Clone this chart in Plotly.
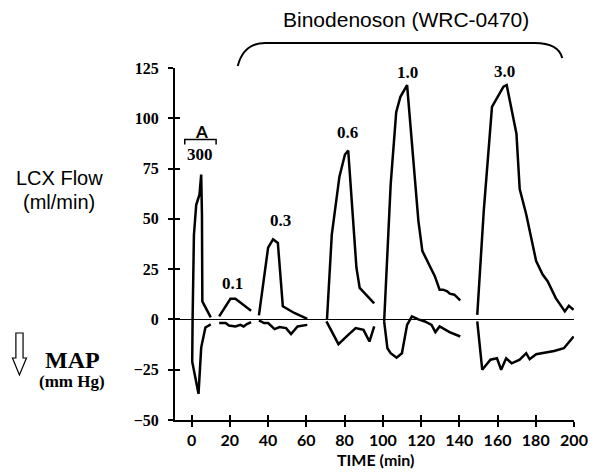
import plotly.graph_objects as go

# LCX flow (ml/min) vs time (min); None separates the dose segments
flow_time = [0.5, 1.2, 2.4, 4.1, 5.0, 5.4, 5.6, 10.0, None,
             14.4, 20.3, 22.9, 31.1, None,
             35.2, 40.0, 42.6, 45.1, 47.7, 53.7, 60.5, None,
             70.8, 73.3, 77.3, 80.2, 81.9, 86.2, 87.9, 95.5, None,
             100.7, 102.4, 104.1, 107.0, 109.2, 112.7, 114.4, 117.0, 118.6, 120.7,
             123.8, 127.2, 129.7, 131.5, 133.7, 135.0, 137.4, 140.5, None,
             149.4, 152.8, 157.1, 161.4, 163.1, 164.8, 169.9, 171.6, 175.0, 180.2,
             183.6, 186.2, 190.4, 195.2, 197.3, 199.8]
flow_values = [0, 42, 57, 62, 72, 52, 9, 1, None,
               1.5, 10.3, 10.3, 4.3, None,
               2, 35.7, 39.8, 38, 6.5, 3.2, 0.3, None,
               0, 42, 71, 82, 84, 25.7, 15.7, 8, None,
               -1, 35.7, 67, 103, 110.7, 116.5, 95.7, 65.7, 49, 34,
               28, 21.5, 14.8, 14.8, 14, 12.8, 12.3, 9.5, None,
               2.3, 54, 105.7, 113, 115.7, 116.5, 92.3, 64.8, 52.3, 29,
               22.3, 19, 10.7, 4, 6.8, 4.8]

# change in mean arterial pressure (mm Hg)
map_time = [0.5, 0.3, 3.6, 5.0, 7.2, 10.0, None,
            14.4, 17.8, 19.5, 22.9, 25.5, 27.2, 28.9, 31.1, None,
            35.2, 37.9, 40.0, 43.4, 46.0, 49.4, 52.0, 55.4, 60.5, None,
            70.5, 76.8, 81.9, 85.8, 89.9, 93.0, 95.5, None,
            100.7, 102.4, 104.1, 107.2, 110.0, 112.7, 115.2, 118.6, 122.0, 125.5,
            127.5, 129.7, 134.9, 140.5, None,
            149.4, 152.0, 156.3, 159.7, 161.9, 164.5, 167.4, 171.6, 175.0, 176.8,
            180.2, 184.5, 189.6, 194.7, 199.8]
map_values = [0, -21, -37, -14, -4, -2.5, None,
              -1.8, -1.8, -3, -3.5, -2.7, -3.5, -2.3, -1.3, None,
              -0.5, -1.8, -1.8, -4.8, -3.8, -4.3, -7.3, -3.5, -2.7, None,
              -1, -12.3, -7.7, -4.3, -5.2, -11, -3.5, None,
              -1, -14.3, -16.8, -19, -16.8, -2.7, 1.5, 0, -1, -2.7,
              -6.3, -3.5, -6.3, -8.5, None,
              -1, -25, -20, -19.3, -25, -19.3, -21.8, -20, -16.8, -19.8,
              -17.3, -16.5, -15.7, -14.3, -8.5]

# dose labels
dose_labels = ["0.1", "0.3", "0.6", "1.0", "3.0"]
dose_label_t = [21.2, 46.5, 81.5, 112.8, 163.6]
dose_label_v = [18, 49, 93, 123, 123.5]

x_ticks = list(range(0, 201, 20))
y_ticks = [-50, -25, 0, 25, 50, 75, 100, 125]

# the page body has an 8px margin, so the figure is drawn 8px smaller
PAGE_OFF = 8
W, H = 600 - PAGE_OFF, 474 - PAGE_OFF
PLOT_L, PLOT_T, PLOT_R, PLOT_B = 175, 68, 582, 420   # plot area in page pixels


# page pixel -> paper helpers for the decorations outside the plot area
def px(x):
    return (x - PLOT_L) / (PLOT_R - PLOT_L)


def py(y):
    return (PLOT_B - y) / (PLOT_B - PLOT_T)


serif = dict(family="Liberation Serif", size=17, color="black", weight="bold")
sans = dict(family="Liberation Sans", size=20, color="black")


def paper_text(x, y, text, font):
    fig.add_annotation(xref="paper", yref="paper", x=px(x), y=py(y), text=text,
                       showarrow=False, xanchor="center", yanchor="middle", font=font)


fig = go.Figure()
fig.add_trace(go.Scatter(x=flow_time, y=flow_values, mode="lines",
                         line=dict(color="black", width=2.5)))
# MAP sits on the overlay axes (same ranges) so their inner tick halves are drawn
fig.add_trace(go.Scatter(x=map_time, y=map_values, mode="lines", xaxis="x2", yaxis="y2",
                         line=dict(color="black", width=2.5)))

for t, v, s in zip(dose_label_t, dose_label_v, dose_labels):
    fig.add_annotation(x=t, y=v, text=s, showarrow=False, font=serif)

fig.add_annotation(x=5, y=93.5, text="A", showarrow=False,
                   font=dict(family="Lato", size=17, color="black", weight="bold"))
fig.add_annotation(x=4.4, y=82, text="300", showarrow=False, font=serif)

paper_text(411, 19, "Binodenoson (WRC-0470)", dict(sans, size=21))
paper_text(57, 178, "LCX Flow", sans)
paper_text(57, 202, "(ml/min)", sans)
paper_text(70, 360, "MAP", dict(family="Liberation Serif", size=24, color="black", weight="bold"))
paper_text(70, 381, "(mm Hg)", dict(family="Liberation Serif", size=17, color="black", weight="bold"))
paper_text(380, 459, "TIME (min)", dict(family="Lato", size=16, color="black", weight="bold"))

# brace over the binodenoson doses
brace = (f"M {px(239)},{py(66)} Q {px(245)},{py(43)} {px(267)},{py(43)} "
         f"L {px(542)},{py(43)} Q {px(566)},{py(43)} {px(570)},{py(58)}")
fig.add_shape(type="path", xref="paper", yref="paper", path=brace,
              line=dict(color="black", width=2))

# small bracket over "300"
fig.add_shape(type="path", xref="x", yref="y",
              path="M -3.6,87 L -3.6,89.5 L 12.8,89.5 L 12.8,87",
              line=dict(color="black", width=1.5))

# hollow down arrow next to MAP
arrow = (f"M {px(12.7)},{py(333)} L {px(20)},{py(333)} L {px(20)},{py(358)} "
         f"L {px(23.5)},{py(358)} L {px(16.3)},{py(375)} L {px(9.2)},{py(358)} "
         f"L {px(12.7)},{py(358)} Z")
fig.add_shape(type="path", xref="paper", yref="paper", path=arrow,
              line=dict(color="black", width=1.2), fillcolor="white")

axis_common = dict(showgrid=False, ticks="outside", ticklen=5, tickwidth=1.5,
                   tickcolor="black", showline=True, linecolor="black", linewidth=2)
overlay_common = dict(ticks="inside", ticklen=5, tickwidth=1.5, tickcolor="black",
                      showticklabels=False, showgrid=False, zeroline=False)

fig.update_layout(
    width=W, height=H,
    margin=dict(l=PLOT_L - PAGE_OFF, r=600 - PLOT_R, t=PLOT_T - PAGE_OFF, b=474 - PLOT_B),
    plot_bgcolor="white", paper_bgcolor="white",
    showlegend=False,
    xaxis=dict(range=[-8.7, 200], tickvals=x_ticks, zeroline=False,
               tickfont=dict(family="Lato", size=16, color="black", weight="bold"),
               ticklabelstandoff=0, **axis_common),
    yaxis=dict(range=[-50, 125], tickvals=y_ticks, zeroline=True,
               zerolinecolor="black", zerolinewidth=1.2,
               tickfont=dict(family="Liberation Serif", size=16, color="black", weight="bold"),
               ticklabelstandoff=6, **axis_common),
    xaxis2=dict(range=[-8.7, 200], tickvals=x_ticks, overlaying="x", anchor="y2",
                **overlay_common),
    yaxis2=dict(range=[-50, 125], tickvals=y_ticks, overlaying="y", anchor="x2",
                **overlay_common),
)

fig.write_html("out.html")
